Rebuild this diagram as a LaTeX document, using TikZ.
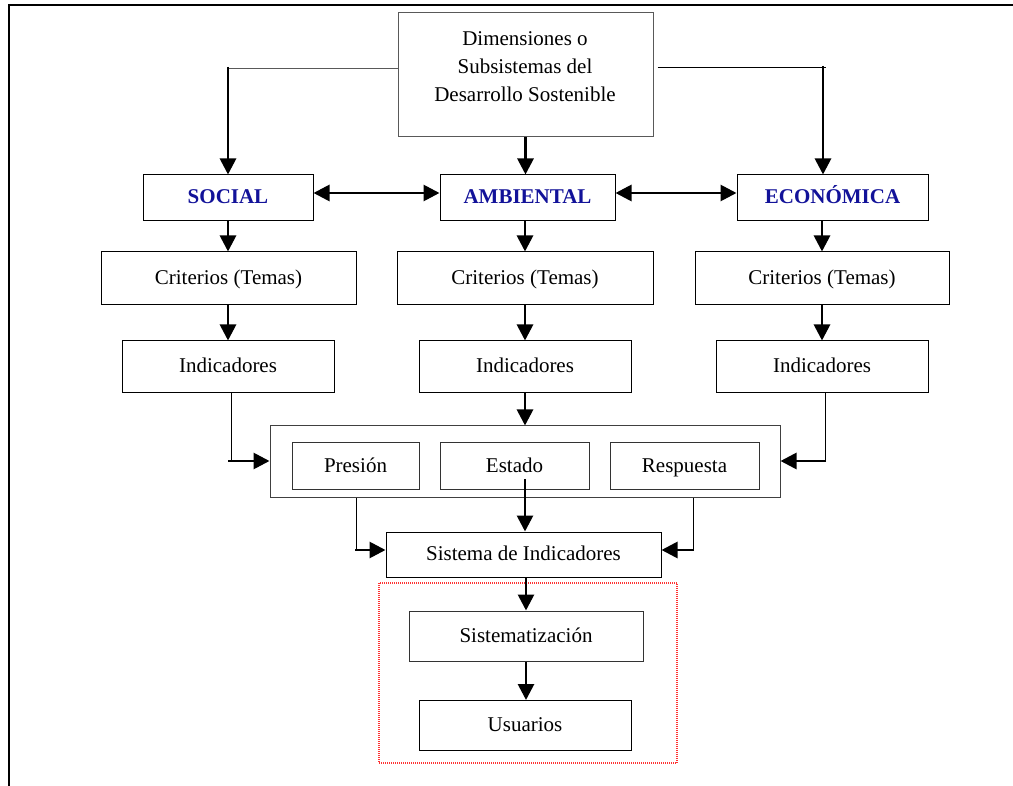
\documentclass[tikz,border=0pt]{standalone}
\usepackage{fontspec}
\setmainfont{Liberation Serif}
\usetikzlibrary{arrows.meta}

\definecolor{azul}{rgb}{0.07,0.07,0.6}
\definecolor{rosado}{rgb}{1,0.2,0.2}

\tikzset{
  caja/.style 2 args={draw, line width=1pt, minimum width=#1, minimum height=#2, inner sep=0pt, text height=16pt, text depth=4pt},
  dimension/.style={text=azul, font=\fontsize{21}{25}\selectfont\bfseries},
  fino/.style={line width=1pt},
  flecha/.style={line width=2.8pt, -{Triangle[length=16pt,width=16pt]}},
  doble/.style={line width=2.8pt, {Triangle[length=16pt,width=16pt]}-{Triangle[length=16pt,width=16pt]}}
}

\begin{document}
\begin{tikzpicture}[x=1pt, y=-1pt, font=\fontsize{21}{28}\selectfont]
            \useasboundingbox (0,0) rectangle (1013,786);
            \draw[line width=1.6pt] (9,786) -- (9,5) -- (1013,5);

            % cabecera
            \node[caja={255pt}{124pt}, draw=black!65] (dim) at (525.5,75) {};
            \node[align=center] (dimt) at (525,67) {Dimensiones o\\Subsistemas del\\Desarrollo Sostenible};

            \node[caja={170pt}{46pt}, dimension] (soc) at (228,198) {SOCIAL};
            \node[caja={175pt}{46pt}, dimension] (amb) at (527.5,198) {AMBIENTAL};
            \node[caja={191pt}{46pt}, dimension] (eco) at (832.5,198) {ECONÓMICA};

            \node[caja={255pt}{53pt}] (cri1) at (228.5,278.5) {Criterios (Temas)};
            \node[caja={256pt}{53pt}] (cri2) at (525,278.5) {Criterios (Temas)};
            \node[caja={254pt}{53pt}] (cri3) at (822,278.5) {Criterios (Temas)};

            \node[caja={212pt}{52pt}] (ind1) at (228,367) {Indicadores};
            \node[caja={212pt}{52pt}] (ind2) at (525,367) {Indicadores};
            \node[caja={212pt}{52pt}] (ind3) at (822,367) {Indicadores};

            % modelo PER
            \node[caja={510pt}{71pt}, draw=black!75] (per) at (525,461.5) {};
            \node[caja={127pt}{46pt}, draw=black!80] (pre) at (355.5,466) {Presión};
            \node[caja={149pt}{46pt}, draw=black!80] (est) at (514.5,466) {Estado};
            \node[caja={149pt}{46pt}, draw=black!80] (res) at (684.5,466) {Respuesta};

            \node[caja={275pt}{45pt}] (sis) at (523.5,554.5) {Sistema de Indicadores};

            \node[draw=rosado, line width=1.2pt, dash pattern=on 1pt off 1pt, minimum width=298pt, minimum height=180pt, inner sep=0pt] (grupo) at (528,673) {};
            \node[caja={234pt}{50pt}, draw=black!80] (sit) at (526,636) {Sistematización};
            \node[caja={212pt}{50pt}] (usu) at (525,725.5) {Usuarios};

            % conectores
            \coordinate (esqi) at (228,69);
            \coordinate (esqd) at (823,68);
            \draw[fino, black!65] (dim.west |- esqi) -- (esqi);
            \draw[flecha] ([yshift=2pt]esqi) -- (esqi |- soc.north);
            \draw[fino] ([xshift=4pt]dim.east |- esqd) -- ([xshift=3pt]esqd);
            \draw[flecha] ([yshift=2pt]esqd) -- (esqd |- eco.north);
            \draw[flecha] (dim.south) -- (dim.south |- amb.north);

            \draw[doble] ([yshift=5pt]soc.east) -- ([yshift=5pt]amb.west);
            \draw[doble] ([yshift=5pt]amb.east) -- ([yshift=5pt]eco.west);

            \draw[flecha] (soc.south) -- (soc.south |- cri1.north);
            \draw[flecha] (amb.south -| cri2) -- (cri2.north);
            \draw[flecha] (eco.south -| cri3) -- (cri3.north);
            \draw[flecha] (cri1.south -| ind1) -- (ind1.north);
            \draw[flecha] (cri2.south) -- (ind2.north);
            \draw[flecha] (cri3.south) -- (ind3.north);

            \coordinate (c1) at (231,461);
            \coordinate (c2) at (825,461);
            \draw[fino] (c1 |- ind1.south) -- (c1);
            \draw[flecha] ([xshift=-3pt]c1) -- (c1 -| per.west);
            \draw[fino] (c2 |- ind3.south) -- (c2);
            \draw[flecha] ([xshift=1pt]c2) -- (c2 -| per.east);
            \draw[flecha] (ind2.south) -- (ind2.south |- per.north);

            \coordinate (c3) at (356,550);
            \coordinate (c4) at (693,550);
            \coordinate (c5) at (525,479);
            \draw[fino] (c3 |- per.south) -- (c3);
            \draw[flecha] ([xshift=-1pt]c3) -- (c3 -| sis.west);
            \draw[fino] (c4 |- per.south) -- (c4);
            \draw[flecha] ([xshift=1pt]c4) -- (c4 -| sis.east);
            \draw[flecha] (c5) -- (c5 |- sis.north);

            \draw[flecha] (sis.south -| sit) -- (sit.north);
            \draw[flecha] (sit.south) -- (sit.south |- usu.north);
        \end{tikzpicture}
\end{document}
